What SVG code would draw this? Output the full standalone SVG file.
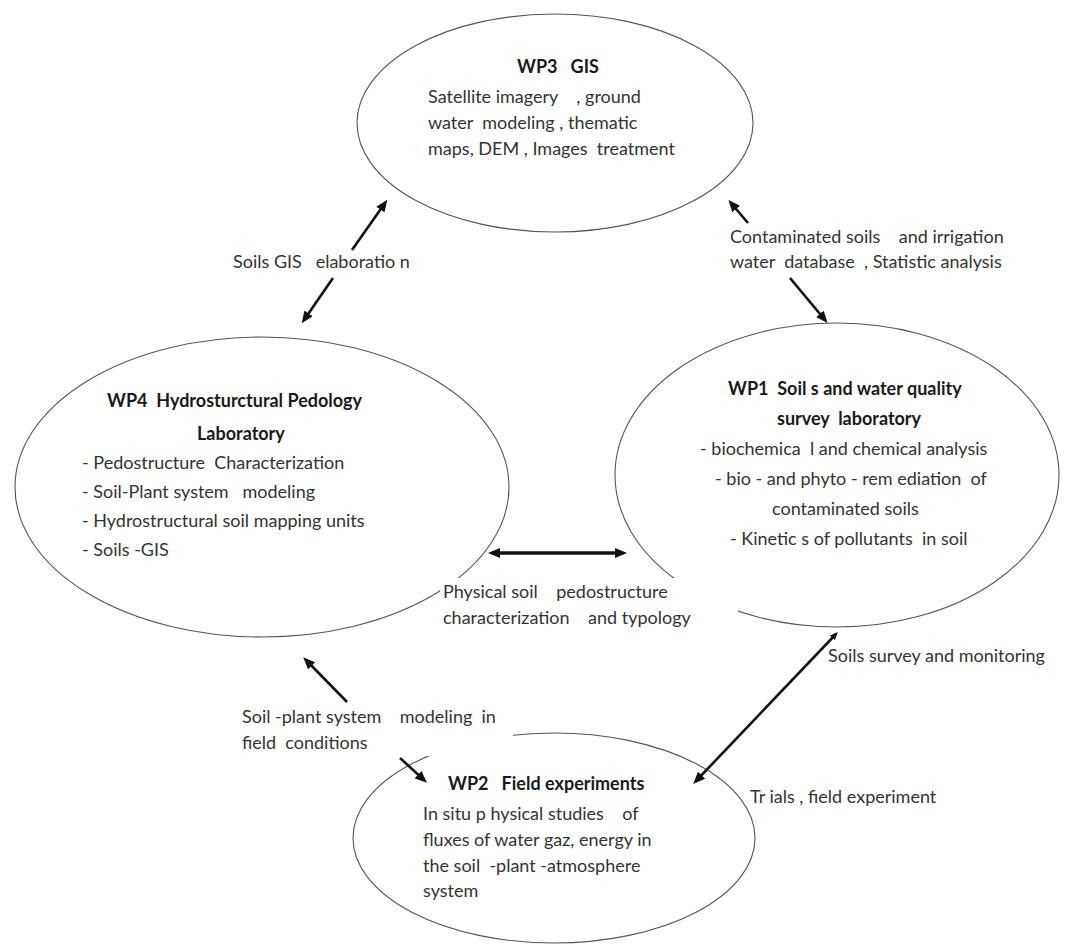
<svg xmlns="http://www.w3.org/2000/svg" width="1078" height="946" viewBox="0 0 1078 946">
<style>
.node{fill:none;stroke:#555;stroke-width:1.1}
.t{font-family:Lato,"Liberation Sans",sans-serif;font-size:18px;fill:#333;white-space:pre}
.b{font-family:Lato,"Liberation Sans",sans-serif;font-size:18px;font-weight:bold;fill:#1a1a1a;white-space:pre}
.ar{stroke:#111;stroke-width:2.6;fill:none}
.ar2{stroke:#111;stroke-width:3.4;fill:none}
.mask{fill:#fff;stroke:none}
</style>
<defs>
<marker id="ah" viewBox="0 0 12 10" refX="8" refY="5" markerWidth="12" markerHeight="10" markerUnits="userSpaceOnUse" orient="auto-start-reverse">
<path d="M0,0 L12,5 L0,10 z" fill="#111"/>
</marker>
<marker id="ahs" viewBox="0 0 12 10" refX="8" refY="5" markerWidth="8" markerHeight="7" markerUnits="userSpaceOnUse" orient="auto-start-reverse">
<path d="M0,0 L12,5 L0,10 z" fill="#111"/>
</marker>
</defs>
<rect width="1078" height="946" fill="#fff"/>

<g id="wp3">
<ellipse class="node" cx="555" cy="123" rx="198" ry="109"/>
<text class="b" x="517" y="73" xml:space="preserve">WP3   GIS</text>
<text class="t" x="428" y="103" xml:space="preserve">Satellite imagery    , ground</text>
<text class="t" x="428" y="129" xml:space="preserve">water  modeling , thematic</text>
<text class="t" x="428" y="155" xml:space="preserve">maps, DEM , Images  treatment</text>
</g>

<g id="wp4">
<ellipse class="node" cx="262" cy="487" rx="247" ry="150"/>
<text class="b" x="107" y="407" xml:space="preserve">WP4  Hydrosturctural Pedology</text>
<text class="b" x="197" y="440">Laboratory</text>
<text class="t" x="82" y="469" xml:space="preserve">- Pedostructure  Characterization</text>
<text class="t" x="82" y="498" xml:space="preserve">- Soil-Plant system   modeling</text>
<text class="t" x="82" y="527" xml:space="preserve">- Hydrostructural soil mapping units</text>
<text class="t" x="82" y="556" xml:space="preserve">- Soils -GIS</text>
</g>

<g id="wp1">
<ellipse class="node" cx="837" cy="475" rx="222" ry="152"/>
<text class="b" x="728" y="395" xml:space="preserve">WP1  Soil s and water quality</text>
<text class="b" x="777" y="425" xml:space="preserve">survey  laboratory</text>
<text class="t" x="700" y="455" xml:space="preserve">- biochemica  l and chemical analysis</text>
<text class="t" x="715" y="485" xml:space="preserve">- bio - and phyto - rem ediation  of</text>
<text class="t" x="772" y="515">contaminated soils</text>
<text class="t" x="730" y="545" xml:space="preserve">- Kinetic s of pollutants  in soil</text>
</g>

<g id="wp2">
<ellipse class="node" cx="554" cy="838" rx="201" ry="105"/>
<text class="b" x="448" y="790" xml:space="preserve">WP2   Field experiments</text>
<text class="t" x="423" y="820" xml:space="preserve">In situ p hysical studies    of</text>
<text class="t" x="423" y="846" xml:space="preserve">fluxes of water gaz, energy in</text>
<text class="t" x="423" y="872" xml:space="preserve">the soil  -plant -atmosphere</text>
<text class="t" x="423" y="897">system</text>
</g>

<g id="connectors">
<line class="ar" x1="352" y1="250" x2="385" y2="203" marker-end="url(#ah)"/>
<line class="ar" x1="333" y1="278" x2="304" y2="320" marker-end="url(#ah)"/>
<line class="ar" x1="748" y1="223" x2="731" y2="203" marker-end="url(#ah)"/>
<line class="ar" x1="790" y1="278" x2="825" y2="320" marker-end="url(#ah)"/>
<line class="ar2" x1="492" y1="553" x2="623" y2="553" marker-start="url(#ah)" marker-end="url(#ah)"/>
<rect class="mask" x="440" y="578" width="298" height="55"/>
<rect class="mask" x="236" y="703" width="277" height="53"/>
<line class="ar" x1="347" y1="702" x2="306" y2="660" marker-end="url(#ah)"/>
<line class="ar" x1="400" y1="758" x2="424" y2="780" marker-end="url(#ah)"/>
<line class="ar" x1="836" y1="634" x2="696" y2="781" marker-start="url(#ahs)" marker-end="url(#ah)"/>
</g>

<g id="labels">
<text class="t" x="233" y="268" xml:space="preserve">Soils GIS   elaboratio n</text>
<text class="t" x="730" y="243" xml:space="preserve">Contaminated soils    and irrigation</text>
<text class="t" x="730" y="268" xml:space="preserve">water  database  , Statistic analysis</text>
<text class="t" x="443" y="598" xml:space="preserve">Physical soil    pedostructure</text>
<text class="t" x="443" y="624" xml:space="preserve">characterization    and typology</text>
<text class="t" x="242" y="723" xml:space="preserve">Soil -plant system    modeling  in</text>
<text class="t" x="242" y="749" xml:space="preserve">field  conditions</text>
<text class="t" x="828" y="662">Soils survey and monitoring</text>
<text class="t" x="750" y="803" xml:space="preserve">Tr ials , field experiment</text>
</g>
</svg>
